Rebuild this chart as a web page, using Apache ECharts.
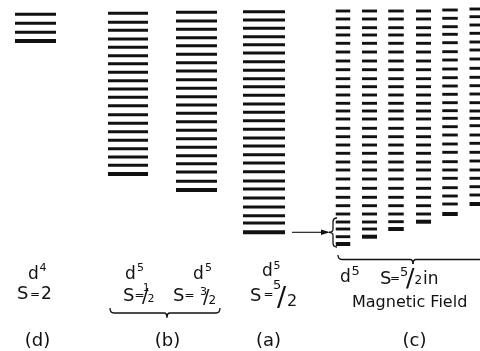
<!DOCTYPE html>
<html>
<head>
<meta charset="utf-8">
<script src="https://cdn.jsdelivr.net/npm/echarts@6/dist/echarts.min.js"></script>
<style>
html,body{margin:0;padding:0;background:#fff;}
#chart{width:480px;height:351px;}
</style>
</head>
<body>
<div id="chart"></div>
<script>
// ---- data: level positions (energy, increasing downward on the axis) ----
const columns = ['d4 S=2', 'd5 S=1/2', 'd5 S=3/2', 'd5 S=5/2', 'c1', 'c2', 'c3', 'c4', 'c5', 'c6'];
const levelsD = [14.3, 23.3, 32.3, 41];
const levelsB1 = [13.3, 22.3, 30.3, 39, 47.3, 55.7, 63.7, 72.3, 80.7, 89, 97.3, 105.7, 114.7, 123.3, 131.7, 140.3, 148.7, 157, 165.3, 174];
const levelsB2 = [12.3, 21, 29.3, 37.7, 45.7, 54.3, 62.7, 71, 79.7, 88.3, 96.7, 105, 113.3, 121.7, 130.3, 138.7, 147.3, 155.7, 163.7, 172, 181.3, 190];
const levelsA = [11.7, 20, 28.3, 36.7, 44.7, 53, 61.7, 70.3, 78.7, 86.7, 95.3, 104, 112.3, 120.7, 129.3, 138, 146, 154.7, 163, 171.7, 181, 189, 198, 207, 215.7, 223, 232.3];
const levelsC1 = [11, 19, 27.7, 35, 43.3, 52, 61, 69.7, 78.7, 86.7, 95, 103.3, 111, 119, 128.3, 136.7, 145, 153.3, 162, 170, 179, 188.3, 197.3, 205.7, 214, 222, 229, 236.7, 244];
const levelsC2 = [11, 19, 27.7, 35, 43.3, 52, 61, 69.7, 78.7, 86.7, 95, 103.3, 111, 119, 128.3, 136.7, 145, 153.3, 162, 170, 179, 188.3, 197.3, 205.7, 214, 222, 229, 236.7];
const levelsC3 = [11, 19, 27.7, 35, 43.3, 52, 61, 69.7, 78.7, 86.7, 95, 103.3, 111, 119, 128.3, 136.7, 145, 153.3, 162, 170, 179, 188.3, 197.3, 205.7, 214, 221.7, 229];
const levelsC4 = [11, 19, 27.7, 35, 43.3, 52, 61, 69.7, 78.7, 86.7, 95, 103.3, 111, 119, 128.3, 136.7, 145, 153.3, 162, 170, 179, 188.3, 197.3, 205.7, 214, 221.7];
const levelsC5 = [10, 18.3, 26.7, 34.3, 42.7, 51.7, 60, 69, 77.7, 86, 94.3, 102.7, 110.7, 118.3, 126.7, 135, 144, 152.3, 161.7, 170, 178.3, 187.7, 196, 204, 214];
const levelsC6 = [9, 16.7, 25, 33.3, 42, 50, 59, 68.3, 77.3, 85.7, 94, 102.7, 111, 118.3, 125.7, 135, 143.3, 152.3, 161, 170, 178.3, 186.7, 195, 204];
const allLevels = [levelsD, levelsB1, levelsB2, levelsA, levelsC1, levelsC2, levelsC3, levelsC4, levelsC5, levelsC6];

// ---- layout (not data) ----
const colX = [35.5, 128, 196.5, 264, 343, 369.5, 396, 423.5, 450, 477];
const colW = [41, 40, 41, 42, 14.5, 15, 15.5, 15, 15.5, 15];
const INK = '#111';
const FONT = '"DejaVu Sans", sans-serif';

const series = allLevels.map((lv, ci) => ({
  type: 'scatter',
  name: columns[ci],
  symbol: 'rect',
  silent: true,
  itemStyle: { color: INK, opacity: 1 },
  data: lv.map((y, i) => ({
    value: [colX[ci], y],
    symbolSize: [colW[ci], i === lv.length - 1 ? 4 : 2.9]
  }))
}));

function txt(s, x, base, size, align) {
  align = align || 'left';
  return {
    type: 'text', silent: true,
    style: {
      text: s, x: x, y: base - size * 0.32,
      font: size + 'px ' + FONT, fill: INK,
      textAlign: align, textVerticalAlign: 'middle',
      align: align, verticalAlign: 'middle'
    }
  };
}
function ln(x1, y1, x2, y2, w) {
  return { type: 'line', silent: true, shape: { x1, y1, x2, y2 }, style: { stroke: INK, lineWidth: w || 1.3 } };
}
function qc(x1, y1, cx, cy, x2, y2, w) {
  return { type: 'bezierCurve', silent: true, shape: { x1, y1, x2, y2, cpx1: cx, cpy1: cy }, style: { stroke: INK, lineWidth: w || 1.3, fill: null } };
}
function hBrace(x1, x2, xm, yT, yM, yB) {
  return [
    qc(x1, yT, x1, yM, x1 + 4, yM),
    ln(x1 + 4, yM, xm - 3, yM),
    qc(xm - 3, yM, xm, yM, xm, yB),
    qc(xm, yB, xm, yM, xm + 3, yM),
    ln(xm + 3, yM, x2 - 4, yM),
    qc(x2 - 4, yM, x2, yM, x2, yT)
  ];
}
function vBrace(xR, xM, xL, y1, ym, y2) {
  return [
    qc(xR, y1, xM, y1, xM, y1 + 4),
    ln(xM, y1 + 4, xM, ym - 3),
    qc(xM, ym - 3, xM, ym, xL, ym),
    qc(xL, ym, xM, ym, xM, ym + 3),
    ln(xM, ym + 3, xM, y2 - 4),
    qc(xM, y2 - 4, xM, y2, xR, y2)
  ];
}
// narrow "=" centred at (x, cy)
function eq(x, cy) { return txt('=', x, cy + 12 * 0.32, 12, 'center'); }

const graphics = [].concat(
  // (d)
  [txt('d', 28, 280, 17), txt('4', 39.5, 272, 11),
   txt('S', 17, 300, 18), eq(35, 294.5), txt('2', 41, 300, 17),
   txt('(d)', 37.5, 347, 18, 'center')],
  // (b)
  [txt('d', 125, 280, 17), txt('5', 137, 272, 11),
   txt('S', 123, 302, 18), eq(139.5, 295.5),
   txt('1', 143, 292, 10), txt('/', 142, 303, 19), txt('2', 147.5, 303, 11),
   txt('d', 193, 280, 17), txt('5', 205, 272, 11),
   txt('S', 173, 302, 18), eq(189.5, 295.5),
   txt('3', 200, 296, 11), txt('/', 203, 304, 19), txt('2', 208.5, 305, 12),
   txt('(b)', 167.5, 347, 18, 'center')],
  hBrace(110, 220, 167, 308, 313, 317.5),
  // (a)
  [txt('d', 262, 277, 17), txt('5', 273.5, 270, 11),
   txt('S', 250, 302, 18), eq(268.5, 295),
   txt('5', 273, 290, 13), txt('/', 277, 308, 27), txt('2', 287, 307, 16),
   txt('(a)', 268.5, 347, 18, 'center')],
  // arrow a -> c, vertical brace
  [ln(292, 232.3, 324, 232.3, 1.1),
   { type: 'polygon', silent: true, shape: { points: [[321, 229.6], [330, 232.3], [321, 235]] }, style: { fill: INK } }],
  vBrace(337, 333, 329, 218, 232.3, 247),
  // (c)
  hBrace(338, 490, 413, 255, 259.5, 264),
  [txt('d', 340, 283, 17), txt('5', 351.5, 276, 13),
   txt('S', 380, 285, 18), eq(395, 278.5),
   txt('5', 400, 277, 13), txt('/', 406, 287, 25), txt('2', 414.5, 285, 12),
   txt('in', 423, 285, 17),
   txt('Magnetic Field', 352, 308, 16),
   txt('(c)', 414.5, 347, 18, 'center')]
);

const chart = echarts.init(document.getElementById('chart'), null, { renderer: 'canvas' });
chart.setOption({
  animation: false,
  backgroundColor: '#fff',
  grid: { left: 0, right: 0, top: 0, bottom: 0 },
  xAxis: { type: 'value', min: 0, max: 480, show: false },
  yAxis: { type: 'value', min: 0, max: 351, inverse: true, show: false },
  series: series,
  graphic: { elements: graphics }
});
</script>
</body>
</html>
